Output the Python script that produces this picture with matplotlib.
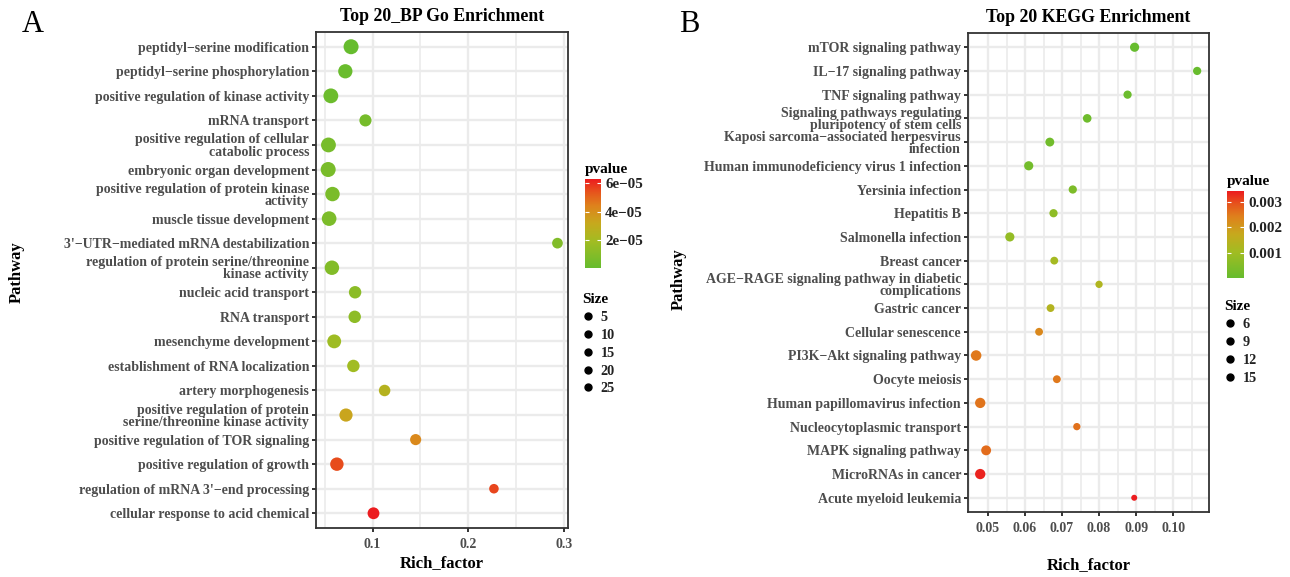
import numpy as np
import matplotlib
matplotlib.use("Agg")
import matplotlib.pyplot as plt
from matplotlib.colors import LinearSegmentedColormap, Normalize
from matplotlib.cm import ScalarMappable
from matplotlib.lines import Line2D
from matplotlib.ticker import FuncFormatter, FixedLocator

plt.rcParams['font.family'] = ['Liberation Serif', 'DejaVu Serif']
plt.rcParams['font.weight'] = 'bold'

# ---------------- data: panel A (GO BP) ----------------
go_terms = [
    "peptidyl\u2212serine modification",
    "peptidyl\u2212serine phosphorylation",
    "positive regulation of kinase activity",
    "mRNA transport",
    "positive regulation of cellular\ncatabolic process",
    "embryonic organ development",
    "positive regulation of protein kinase\nactivity",
    "muscle tissue development",
    "3'\u2212UTR\u2212mediated mRNA destabilization",
    "regulation of protein serine/threonine\nkinase activity",
    "nucleic acid transport",
    "RNA transport",
    "mesenchyme development",
    "establishment of RNA localization",
    "artery morphogenesis",
    "positive regulation of protein\nserine/threonine kinase activity",
    "positive regulation of TOR signaling",
    "positive regulation of growth",
    "regulation of mRNA 3'\u2212end processing",
    "cellular response to acid chemical",
]
go_rich = [0.0776, 0.0716, 0.0565, 0.0926, 0.0540, 0.0537, 0.0582, 0.0547, 0.2930, 0.0576,
           0.0818, 0.0814, 0.0600, 0.0800, 0.1126, 0.0723, 0.1450, 0.0628, 0.2267, 0.1010]
go_pvalue = [5.0e-7, 1.5e-6, 2.5e-6, 5.5e-6, 6.0e-6, 6.5e-6, 7.0e-6, 7.5e-6, 9.0e-6, 9.5e-6,
             1.2e-5, 1.3e-5, 1.8e-5, 1.9e-5, 2.6e-5, 3.3e-5, 4.2e-5, 5.5e-5, 5.6e-5, 6.3e-5]
go_size = [25, 21, 24, 12, 24, 25, 22, 23, 8, 22, 13, 13, 19, 13, 10, 16, 9, 17, 6, 11]
go_xticks = [0.1, 0.2, 0.3]
go_cbar_ticks = [2e-5, 4e-5, 6e-5]
go_size_breaks = [5, 10, 15, 20, 25]

# ---------------- data: panel B (KEGG) ----------------
kegg_terms = [
    "mTOR signaling pathway",
    "IL\u221217 signaling pathway",
    "TNF signaling pathway",
    "Signaling pathways regulating\npluripotency of stem cells",
    "Kaposi sarcoma\u2212associated herpesvirus\ninfection",
    "Human immunodeficiency virus 1 infection",
    "Yersinia infection",
    "Hepatitis B",
    "Salmonella infection",
    "Breast cancer",
    "AGE\u2212RAGE signaling pathway in diabetic\ncomplications",
    "Gastric cancer",
    "Cellular senescence",
    "PI3K\u2212Akt signaling pathway",
    "Oocyte meiosis",
    "Human papillomavirus infection",
    "Nucleocytoplasmic transport",
    "MAPK signaling pathway",
    "MicroRNAs in cancer",
    "Acute myeloid leukemia",
]
kegg_rich = [0.0896, 0.1065, 0.0877, 0.0768, 0.0667, 0.0610, 0.0729, 0.0677, 0.0559, 0.0679,
             0.0800, 0.0669, 0.0638, 0.0468, 0.0686, 0.0479, 0.0740, 0.0495, 0.0479, 0.0895]
kegg_pvalue = [1.0e-5, 5.0e-5, 1.0e-4, 1.5e-4, 2.0e-4, 2.5e-4, 4.0e-4, 7.0e-4, 8.0e-4, 1.1e-3,
               1.3e-3, 1.35e-3, 2.3e-3, 2.5e-3, 2.5e-3, 2.55e-3, 2.6e-3, 2.65e-3, 3.35e-3, 3.43e-3]
kegg_size = [10, 7, 7, 8, 9, 10, 7, 7, 10, 6, 5, 6, 6, 16, 6, 15, 5, 13, 15, 4]
kegg_xticks = [0.05, 0.06, 0.07, 0.08, 0.09, 0.10]
kegg_cbar_ticks = [0.001, 0.002, 0.003]
kegg_size_breaks = [6, 9, 12, 15]

# ---------------- style ----------------
W, H = 1290, 577
DPI = 100
cmap = LinearSegmentedColormap.from_list(
    "gr", [(0.0, "#66BC2E"), (0.3, "#A2BC22"), (0.5, "#C6A91D"),
           (0.7, "#DE821C"), (0.85, "#E6551C"), (1.0, "#EC1C1F")])
TICK_COLOR = "#4D4D4D"
GRID = "#EBEBEB"
PX = 72.0 / DPI  # points per pixel
LBL = 10.0

fig = plt.figure(figsize=(W / DPI, H / DPI), dpi=DPI)


def px_rect(l, t, r, b):
    return [l / W, 1 - b / H, (r - l) / W, (b - t) / H]


def diam_area(sizes, smin, smax, dmin, dmax):
    s = np.asarray(sizes, float)
    frac = np.clip((s - smin) / (smax - smin), 0, 1)
    d = dmin + (dmax - dmin) * np.sqrt(frac)
    return (d * PX) ** 2


def panel(rect, terms, rich, pval, sizes, xticks, xminor, xfmt, xlim, title,
          size_rng, dia_rng, cbar_rect, cbar_ticks, cbar_fmt, leg_anchor, size_breaks,
          ylab_xy, xlab_y):
    ax = fig.add_axes(rect)
    n = len(terms)
    ypos = np.arange(n)[::-1] + 1
    norm = Normalize(vmin=min(pval), vmax=max(pval))
    areas = diam_area(sizes, size_rng[0], size_rng[1], dia_rng[0], dia_rng[1])
    ax.set_axisbelow(True)
    ax.scatter(rich, ypos, s=areas, c=pval, cmap=cmap, norm=norm, linewidths=0, zorder=3)
    ax.set_xlim(*xlim)
    ax.set_ylim(0.4, n + 0.6)
    ax.set_yticks(ypos)
    ax.set_yticklabels(terms)
    ax.xaxis.set_major_locator(FixedLocator(xticks))
    ax.xaxis.set_minor_locator(FixedLocator(xminor))
    ax.xaxis.set_major_formatter(FuncFormatter(xfmt))
    ax.grid(True, which='major', color=GRID, lw=1.7)
    ax.grid(True, which='minor', axis='x', color=GRID, lw=1.2)
    ax.tick_params(axis='y', which='major', length=3, width=1.4, color='#333333',
                   labelsize=LBL, labelcolor=TICK_COLOR, pad=2)
    ax.tick_params(axis='x', which='major', length=3, width=1.4, color='#333333',
                   labelsize=LBL, labelcolor=TICK_COLOR, pad=4)
    ax.tick_params(axis='x', which='minor', length=0)
    for lab in ax.get_yticklabels():
        lab.set_linespacing(0.92)
        lab.set_fontweight('bold')
    for lab in ax.get_xticklabels():
        lab.set_fontweight('bold')
    for sp in ax.spines.values():
        sp.set_color('#333333')
        sp.set_linewidth(1.3)
    ax.set_title(title, fontsize=12.8, fontweight='bold', pad=8)
    ax.set_xlabel("Rich_factor", fontsize=12, fontweight='bold')
    ax.set_ylabel("Pathway", fontsize=12, fontweight='bold')
    ax.xaxis.set_label_coords(0.5, xlab_y)
    ax.yaxis.set_label_coords(*ylab_xy)

    # colorbar
    cax = fig.add_axes(cbar_rect)
    cb = fig.colorbar(ScalarMappable(norm=norm, cmap=cmap), cax=cax)
    cb.outline.set_visible(False)
    cb.set_ticks(cbar_ticks)
    cb.ax.yaxis.set_major_formatter(FuncFormatter(cbar_fmt))
    cax.tick_params(left=True, right=True, labelleft=False, labelright=True,
                    direction='in', color='white', length=3, width=0.8,
                    labelsize=10.8, labelcolor='#222222', pad=3)
    for lab in cax.get_yticklabels():
        lab.set_fontweight('bold')
    cax.set_title("pvalue", loc='left', fontsize=11, fontweight='bold', pad=4)

    # size legend
    handles = [Line2D([], [], ls='none', marker='o', color='black', markersize=5)
               for _ in size_breaks]
    leg = fig.legend(handles, [str(b) for b in size_breaks], title="Size",
                     loc='upper left', bbox_to_anchor=leg_anchor, frameon=False,
                     fontsize=10.3, title_fontsize=11, handlelength=0.8,
                     handletextpad=0.5, labelspacing=0.34, borderaxespad=0,
                     borderpad=0, alignment='left')
    leg.get_title().set_fontweight('bold')
    for t in leg.get_texts():
        t.set_fontweight('bold')
        t.set_color('#222222')
    return ax


panel(px_rect(316, 32, 568, 528), go_terms, go_rich, go_pvalue, go_size,
      go_xticks, [0.05, 0.15, 0.25], lambda v, p: f"{v:.1f}", (0.041, 0.304),
      "Top 20_BP Go Enrichment", (5, 25), (8, 15),
      px_rect(585, 179, 601, 268), go_cbar_ticks,
      lambda v, p: f"{v:.0e}".replace('-', '\u2212'),
      (582 / W, 1 - 293 / H), go_size_breaks, (-1.155, 0.516), -0.055)

panel(px_rect(968, 33, 1209, 512), kegg_terms, kegg_rich, kegg_pvalue, kegg_size,
      kegg_xticks, [0.045, 0.055, 0.065, 0.075, 0.085, 0.095, 0.105],
      lambda v, p: f"{v:.2f}", (0.0446, 0.1097),
      "Top 20 KEGG Enrichment", (4, 16), (6, 10.5),
      px_rect(1227, 191, 1244, 278), kegg_cbar_ticks,
      lambda v, p: f"{v:.3f}",
      (1224 / W, 1 - 300 / H), kegg_size_breaks, (-1.166, 0.487), -0.094)

fig.text(22 / W, 1 - 32 / H, "A", fontsize=22, fontweight='normal', va='baseline')
fig.text(679 / W, 1 - 32 / H, "B", fontsize=22, fontweight='normal', va='baseline')

fig.savefig("out.png", dpi=DPI)
